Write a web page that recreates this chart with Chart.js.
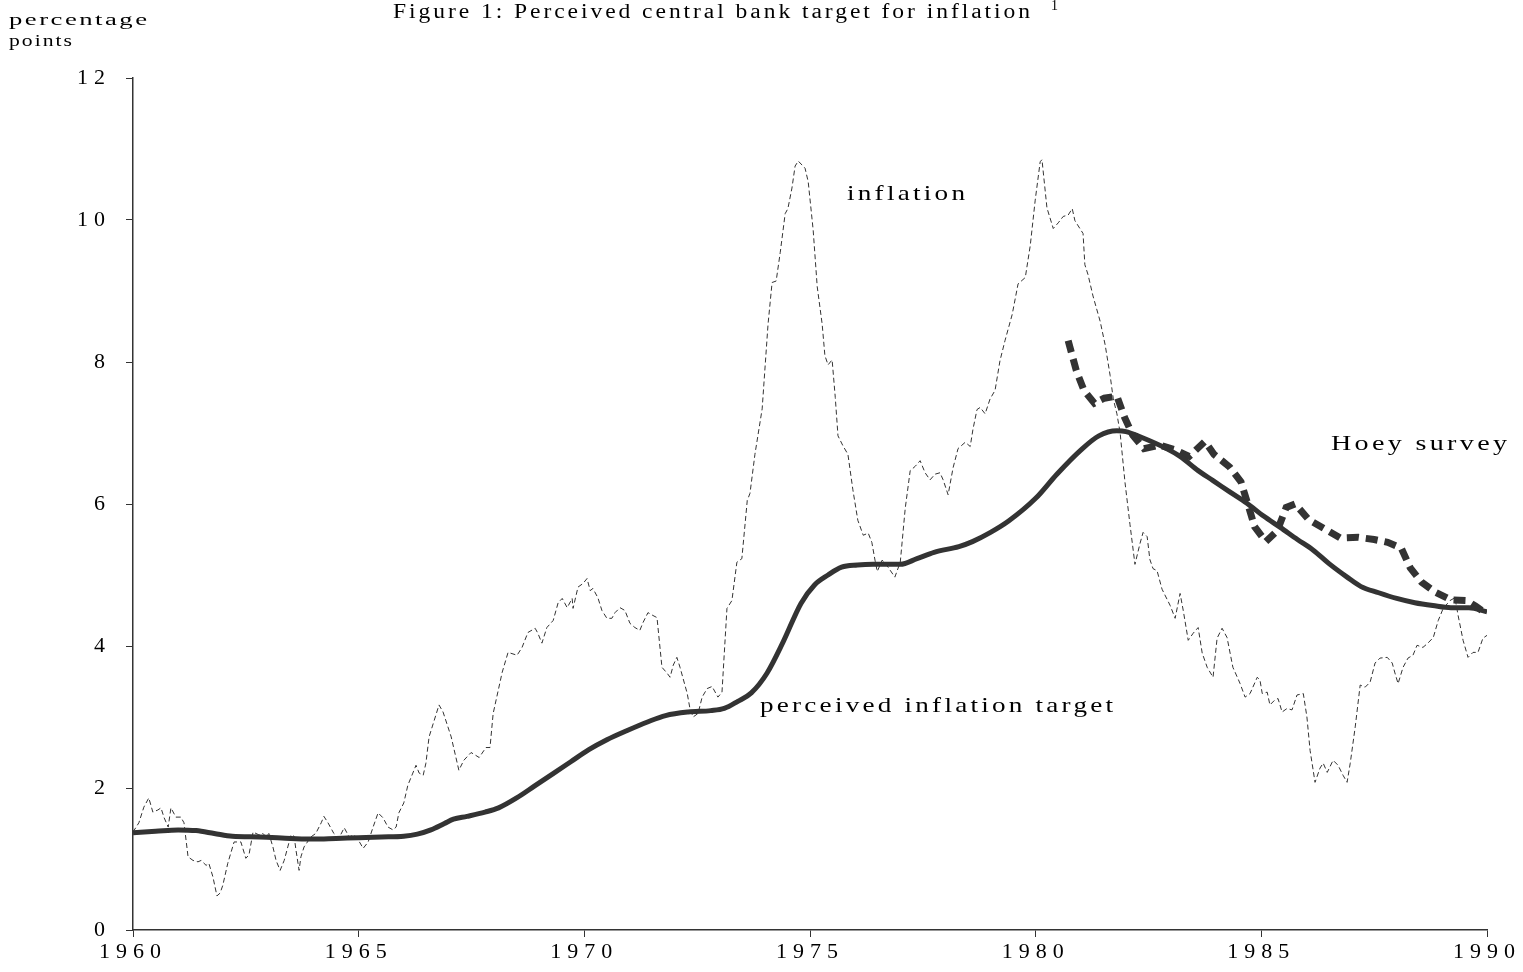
<!DOCTYPE html>
<html>
<head>
<meta charset="utf-8">
<title>Perceived central bank target for inflation</title>
<script src="https://cdn.jsdelivr.net/npm/chart.js@4"></script>
<style>
  html, body { margin: 0; padding: 0; background: #fff; }
  #chart { display: block; }
</style>
</head>
<body>
<canvas id="chart" width="1523" height="972"></canvas>
<script>
// inflation
const inflYears = [
  1960.00, 1960.13, 1960.24, 1960.35, 1960.44, 1960.55, 1960.62, 1960.69, 1960.78, 1960.84, 1960.95,
  1961.06, 1961.13, 1961.22, 1961.33, 1961.44, 1961.51, 1961.62, 1961.68, 1961.77, 1961.86, 1961.93, 1961.99,
  1962.10, 1962.24, 1962.39, 1962.50, 1962.57, 1962.66, 1962.79, 1962.88, 1962.95,
  1963.01, 1963.10, 1963.17, 1963.26, 1963.35, 1963.43, 1963.50, 1963.57, 1963.61, 1963.68, 1963.72, 1963.79, 1963.94,
  1964.05, 1964.17, 1964.23, 1964.32, 1964.45, 1964.56, 1964.68, 1964.79, 1964.90, 1964.99,
  1965.10, 1965.21, 1965.32, 1965.43, 1965.54, 1965.65, 1965.76, 1965.83, 1965.89,
  1966.00, 1966.09, 1966.20, 1966.27, 1966.34, 1966.43, 1966.49, 1966.56, 1966.78, 1966.87,
  1967.05, 1967.22, 1967.33, 1967.49, 1967.67, 1967.82, 1967.91, 1967.98,
  1968.18, 1968.31, 1968.51, 1968.62, 1968.75, 1968.91, 1968.97,
  1969.06, 1969.17, 1969.31, 1969.42, 1969.51, 1969.62, 1969.73, 1969.75, 1969.86, 1969.97,
  1970.06, 1970.13, 1970.19, 1970.30, 1970.39, 1970.50, 1970.61, 1970.68, 1970.79, 1970.90,
  1971.01, 1971.12, 1971.23, 1971.30, 1971.41, 1971.52, 1971.61, 1971.72, 1971.83, 1971.90, 1971.97,
  1972.05, 1972.12, 1972.28, 1972.34, 1972.41, 1972.52, 1972.61, 1972.72, 1972.83, 1972.96,
  1973.05, 1973.16, 1973.27, 1973.38, 1973.49, 1973.61, 1973.67, 1973.78, 1973.94,
  1974.07, 1974.16, 1974.25, 1974.34, 1974.45, 1974.51, 1974.60, 1974.67, 1974.74, 1974.89, 1974.96,
  1975.07, 1975.16, 1975.27, 1975.33, 1975.40, 1975.49, 1975.56, 1975.62, 1975.73, 1975.84, 1975.95,
  1976.06, 1976.18, 1976.29, 1976.37, 1976.44, 1976.49, 1976.60, 1976.73, 1976.88,
  1977.00, 1977.11, 1977.22, 1977.33, 1977.44, 1977.55, 1977.66, 1977.77, 1977.88, 1977.95,
  1978.06, 1978.17, 1978.28, 1978.44, 1978.55, 1978.61, 1978.70, 1978.77, 1978.88, 1978.99,
  1979.10, 1979.21, 1979.32, 1979.48, 1979.61, 1979.77, 1979.88, 1979.99,
  1980.10, 1980.14, 1980.25, 1980.39, 1980.50, 1980.61, 1980.72, 1980.81, 1980.87,
  1981.05, 1981.09, 1981.16, 1981.27, 1981.43, 1981.54, 1981.65, 1981.72, 1981.80, 1981.87, 1981.98,
  1982.09, 1982.20, 1982.31, 1982.38, 1982.47, 1982.53, 1982.60, 1982.69, 1982.80, 1982.98,
  1983.09, 1983.20, 1983.27, 1983.38, 1983.49, 1983.60, 1983.69, 1983.80, 1983.93,
  1984.02, 1984.13, 1984.24, 1984.37, 1984.53, 1984.64, 1984.75, 1984.91, 1984.97,
  1985.02, 1985.13, 1985.19, 1985.30, 1985.37, 1985.46, 1985.57, 1985.68, 1985.79, 1985.93,
  1986.01, 1986.08, 1986.19, 1986.30, 1986.37, 1986.46, 1986.59, 1986.70, 1986.81, 1986.90, 1986.97,
  1987.08, 1987.19, 1987.30, 1987.41, 1987.52, 1987.63, 1987.79, 1987.90, 1987.96,
  1988.03, 1988.14, 1988.25, 1988.36, 1988.45, 1988.58, 1988.69, 1988.81, 1988.92,
  1989.03, 1989.18, 1989.29, 1989.36, 1989.47, 1989.58, 1989.69, 1989.80, 1989.91, 1990.00
];
const inflValues = [
  1.38, 1.51, 1.73, 1.86, 1.66, 1.69, 1.72, 1.58, 1.45, 1.72, 1.59,
  1.59, 1.51, 1.03, 0.98, 0.96, 0.98, 0.91, 0.94, 0.75, 0.48, 0.52, 0.63,
  0.94, 1.24, 1.24, 1.01, 1.06, 1.38, 1.34, 1.36, 1.31,
  1.36, 1.17, 0.98, 0.84, 0.98, 1.17, 1.34, 1.32, 1.13, 0.84, 1.03, 1.17, 1.31,
  1.36, 1.51, 1.60, 1.51, 1.36, 1.29, 1.44, 1.31, 1.34, 1.27,
  1.15, 1.24, 1.45, 1.65, 1.58, 1.45, 1.41, 1.45, 1.65,
  1.79, 2.04, 2.21, 2.32, 2.21, 2.18, 2.35, 2.72, 3.17, 3.07,
  2.72, 2.25, 2.39, 2.50, 2.43, 2.57, 2.57, 3.05,
  3.63, 3.91, 3.87, 3.98, 4.19, 4.25, 4.18,
  4.04, 4.26, 4.36, 4.61, 4.67, 4.54, 4.67, 4.53, 4.83, 4.88,
  4.95, 4.78, 4.81, 4.68, 4.50, 4.39, 4.39, 4.47, 4.54, 4.50,
  4.32, 4.26, 4.22, 4.33, 4.47, 4.43, 4.40, 3.70, 3.62, 3.56, 3.73,
  3.84, 3.70, 3.33, 3.12, 3.00, 3.05, 3.28, 3.40, 3.43, 3.28,
  3.35, 4.53, 4.64, 5.18, 5.23, 6.05, 6.15, 6.70, 7.34,
  8.53, 9.12, 9.14, 9.54, 10.09, 10.16, 10.45, 10.76, 10.83, 10.73, 10.54,
  9.86, 9.06, 8.53, 8.09, 7.96, 8.03, 7.50, 6.96, 6.82, 6.70, 6.20,
  5.77, 5.56, 5.59, 5.46, 5.21, 5.05, 5.21, 5.11, 4.97,
  5.18, 5.94, 6.47, 6.53, 6.61, 6.44, 6.34, 6.42, 6.44, 6.34,
  6.13, 6.51, 6.78, 6.87, 6.81, 7.05, 7.33, 7.36, 7.27, 7.48,
  7.60, 8.02, 8.30, 8.67, 9.10, 9.19, 9.64, 10.28,
  10.82, 10.85, 10.17, 9.88, 9.96, 10.05, 10.07, 10.16, 9.99,
  9.81, 9.37, 9.23, 8.93, 8.57, 8.24, 7.81, 7.48, 7.27, 7.01, 6.30,
  5.71, 5.15, 5.44, 5.60, 5.54, 5.22, 5.09, 5.06, 4.80, 4.57,
  4.39, 4.74, 4.50, 4.08, 4.18, 4.26, 3.90, 3.70, 3.56,
  4.11, 4.25, 4.12, 3.70, 3.47, 3.28, 3.33, 3.56, 3.52,
  3.33, 3.35, 3.17, 3.24, 3.26, 3.07, 3.12, 3.10, 3.31, 3.33,
  3.00, 2.53, 2.08, 2.28, 2.35, 2.22, 2.39, 2.32, 2.18, 2.08, 2.35,
  2.86, 3.45, 3.42, 3.49, 3.76, 3.83, 3.84, 3.76, 3.62,
  3.47, 3.70, 3.83, 3.87, 4.01, 3.98, 4.04, 4.12, 4.36,
  4.53, 4.64, 4.68, 4.43, 4.08, 3.84, 3.91, 3.91, 4.11, 4.15
];

// perceived inflation target (thick solid line)
const targetYears = [
  1960.0, 1960.5, 1961.0, 1961.4, 1961.8, 1962.2, 1962.8, 1963.5, 1964.0, 1964.5,
  1965.0, 1965.5, 1966.0, 1966.3, 1966.6, 1966.9, 1967.1, 1967.4, 1967.8, 1968.1,
  1968.5, 1968.9, 1969.3, 1969.7, 1970.1, 1970.5, 1970.95, 1971.4, 1971.8, 1972.3,
  1972.8, 1973.1, 1973.4, 1973.7, 1974.05, 1974.4, 1974.8, 1975.1, 1975.4, 1975.7,
  1976.05, 1976.4, 1977.0, 1977.37, 1977.75, 1978.3, 1978.6, 1979.0, 1979.4, 1980.0,
  1980.47, 1981.0, 1981.4, 1981.8, 1982.0, 1982.3, 1982.9, 1983.2, 1983.6, 1983.93,
  1984.3, 1984.68, 1985.05, 1985.42, 1985.8, 1986.15, 1986.5, 1986.9, 1987.2, 1987.6,
  1988.0, 1988.4, 1988.8, 1989.2, 1989.6, 1990.0
];
const targetValues = [
  1.37, 1.39, 1.41, 1.40, 1.36, 1.32, 1.31, 1.29, 1.28, 1.29,
  1.30, 1.31, 1.32, 1.35, 1.41, 1.50, 1.56, 1.60, 1.66, 1.72,
  1.86, 2.03, 2.20, 2.37, 2.54, 2.68, 2.81, 2.93, 3.02, 3.07,
  3.09, 3.12, 3.22, 3.34, 3.62, 4.05, 4.60, 4.86, 5.00, 5.11,
  5.14, 5.15, 5.15, 5.23, 5.32, 5.40, 5.47, 5.60, 5.76, 6.08,
  6.42, 6.76, 6.96, 7.03, 7.02, 6.95, 6.78, 6.67, 6.47, 6.33,
  6.17, 6.01, 5.83, 5.67, 5.50, 5.35, 5.16, 4.97, 4.84, 4.75,
  4.67, 4.61, 4.57, 4.54, 4.54, 4.48
];

// Hoey survey (thick dashed line)
const hoeyYears = [
  1980.72, 1980.90, 1981.07, 1981.30, 1981.52, 1981.80, 1981.97, 1982.15, 1982.40, 1982.75,
  1983.10, 1983.40, 1983.75, 1983.95, 1984.30, 1984.55, 1984.70, 1984.85, 1985.10, 1985.35,
  1985.55, 1985.75, 1986.05, 1986.35, 1986.75, 1987.15, 1987.50, 1987.80, 1988.10, 1988.30,
  1988.55, 1988.85, 1989.20, 1989.55, 1989.75, 1990.00
];
const hoeyValues = [
  8.30, 7.88, 7.60, 7.42, 7.49, 7.52, 7.22, 6.97, 6.78, 6.83,
  6.76, 6.67, 6.88, 6.70, 6.52, 6.31, 6.00, 5.68, 5.47, 5.62,
  5.95, 6.00, 5.78, 5.67, 5.52, 5.53, 5.50, 5.46, 5.38, 5.10,
  4.90, 4.76, 4.65, 4.64, 4.56, 4.45
];

const xTicks = [1960, 1965, 1970, 1975, 1980, 1985, 1990];
const yTicks = [0, 2, 4, 6, 8, 10, 12];

const ink = '#333333';
const serif = "'Liberation Serif', 'DejaVu Serif', serif";

function toPoints(xs, ys) {
  return xs.map((x, i) => ({ x: x, y: ys[i] }));
}

// draw text widened to run from x0 to x1 (some letter spacing, the rest stretched)
function wide(ctx, text, x0, x1, yBase, font, spacing) {
  ctx.save();
  ctx.font = font;
  ctx.letterSpacing = spacing + 'px';
  const w = ctx.measureText(text).width - spacing;
  const sx = (x1 - x0) / w;
  ctx.translate(x0, yBase);
  ctx.scale(sx, 1);
  ctx.textAlign = 'left';
  ctx.textBaseline = 'alphabetic';
  ctx.fillText(text, 0, 0);
  ctx.restore();
}

const textPlugin = {
  id: 'texts',
  beforeDraw(chart) {
    // wide tick labels like the printed figure
    chart.ctx.letterSpacing = '6px';
  },
  afterDraw(chart) {
    const ctx = chart.ctx;
    ctx.save();
    ctx.fillStyle = '#000';
    wide(ctx, 'Figure 1: Perceived central bank target for inflation', 393, 1030, 18, '20px ' + serif, 2.5);
    ctx.letterSpacing = '0px';
    ctx.font = '14px ' + serif;
    ctx.fillText('1', 1051, 10);
    wide(ctx, 'percentage', 9, 147, 25, '16px ' + serif, 1.5);
    wide(ctx, 'points', 9, 72, 46, '16px ' + serif, 1.5);
    wide(ctx, 'inflation', 847, 965, 200, '21px ' + serif, 2.5);
    wide(ctx, 'perceived inflation target', 760, 1113, 712, '21px ' + serif, 2.5);
    wide(ctx, 'Hoey survey', 1331, 1507, 450, '21px ' + serif, 2.5);
    ctx.restore();
  }
};

new Chart(document.getElementById('chart'), {
  type: 'line',
  data: {
    datasets: [
      {
        label: 'inflation',
        data: toPoints(inflYears, inflValues),
        borderColor: ink,
        borderWidth: 1,
        borderDash: [5, 3],
        pointRadius: 0,
        tension: 0,
        fill: false
      },
      {
        label: 'perceived inflation target',
        data: toPoints(targetYears, targetValues),
        borderColor: ink,
        borderWidth: 5,
        pointRadius: 0,
        cubicInterpolationMode: 'monotone',
        fill: false
      },
      {
        label: 'Hoey survey',
        data: toPoints(hoeyYears, hoeyValues),
        borderColor: ink,
        borderWidth: 7,
        borderDash: [12, 7],
        borderCapStyle: 'butt',
        pointRadius: 0,
        tension: 0,
        fill: false
      }
    ]
  },
  options: {
    responsive: false,
    animation: false,
    layout: { padding: { top: 78, right: 36, left: 0, bottom: 0 } },
    plugins: {
      legend: { display: false },
      tooltip: { enabled: false },
      title: { display: false }
    },
    scales: {
      x: {
        type: 'linear',
        min: 1960,
        max: 1990,
        afterBuildTicks: s => { s.ticks = xTicks.map(v => ({ value: v })); },
        afterFit: s => { s.height = 42; },
        grid: { drawOnChartArea: false, drawTicks: true, tickLength: 7, color: ink },
        border: { display: true, color: ink, width: 1.5 },
        ticks: {
          autoSkip: false,
          maxRotation: 0,
          padding: 2,
          color: '#000',
          font: { family: serif, size: 22 },
          callback: v => String(v)
        }
      },
      y: {
        min: 0,
        max: 12,
        afterBuildTicks: s => { s.ticks = yTicks.map(v => ({ value: v })); },
        afterFit: s => { s.width = 133; },
        grid: { drawOnChartArea: false, drawTicks: true, tickLength: 7, color: ink },
        border: { display: true, color: ink, width: 1.5 },
        ticks: {
          padding: 15,
          color: '#000',
          font: { family: serif, size: 22 },
          callback: v => String(v)
        }
      }
    }
  },
  plugins: [textPlugin]
});
</script>
</body>
</html>
